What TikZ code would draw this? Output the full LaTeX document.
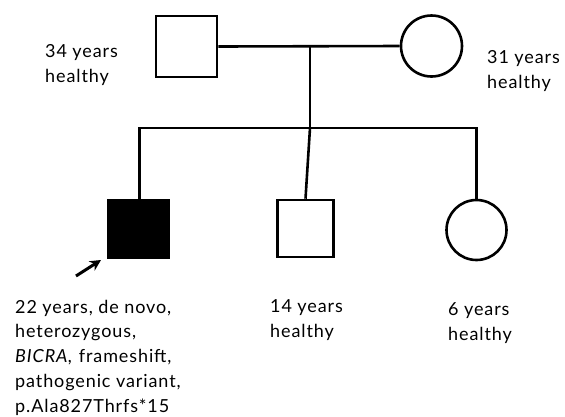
\documentclass[tikz,border=0pt]{standalone}
\usepackage{fontspec}
\setmainfont{Lato}[LetterSpace=5]
\usetikzlibrary{arrows.meta}
\begin{document}
\begin{tikzpicture}[x=1pt,y=-1pt,
  lw/.style={line width=2.6pt},
  male/.style={draw,lw,rectangle,minimum width=61pt,minimum height=61pt,inner sep=0pt},
  female/.style={draw,lw,circle,minimum size=61pt,inner sep=0pt},
  affected/.style={fill=black},
  lab/.style={anchor=base west,inner sep=0pt,align=left,font=\fontsize{18}{24.7}\selectfont}
]
\useasboundingbox (0,0) rectangle (565,416);
% parents
\node[male] (fa) at (186.5,46.5) {};
\node[female] (mo) at (431.5,46) {};
\draw[lw] (fa.east) -- (mo.west);
\coordinate (m) at (310,46);
\coordinate (s) at (310,128);
\draw[lw] (m) -- (s);
% children
\node[male,affected,minimum width=61pt,minimum height=58pt] (c1) at (138.5,229) {};
\node[male,minimum width=56pt,minimum height=57pt] (c2) at (305.5,228.5) {};
\node[female,minimum size=60pt] (c3) at (476.5,230) {};
\coordinate (sl) at (139.5,128);
\coordinate (sr) at (476.5,128);
\draw[lw] (c1.north -| sl) -- (sl) -- (sr) -- (c3.north);
\draw[lw] (s) -- (c2.north);
% proband arrow
\coordinate (pt) at (76,276);
\coordinate (ph) at (101,260);
\draw[line width=3pt,-{Stealth[length=11pt,width=11pt]}] (pt) -- (ph);
% labels (anchored at the baseline of the last line)
\node[lab] (l1) at (45,82) {34 years\\healthy};
\node[lab] (l2) at (487,88) {31 years\\healthy};
\node[lab] (l3) at (15,412) {22 years, de novo,\\heterozygous,\\\textit{BICRA,} frameshift,\\pathogenic variant,\\p.Ala827Thrfs*15};
\node[lab] (l4) at (270,337) {14 years\\healthy};
\node[lab] (l5) at (448,340) {6 years\\healthy};
\end{tikzpicture}
\end{document}
